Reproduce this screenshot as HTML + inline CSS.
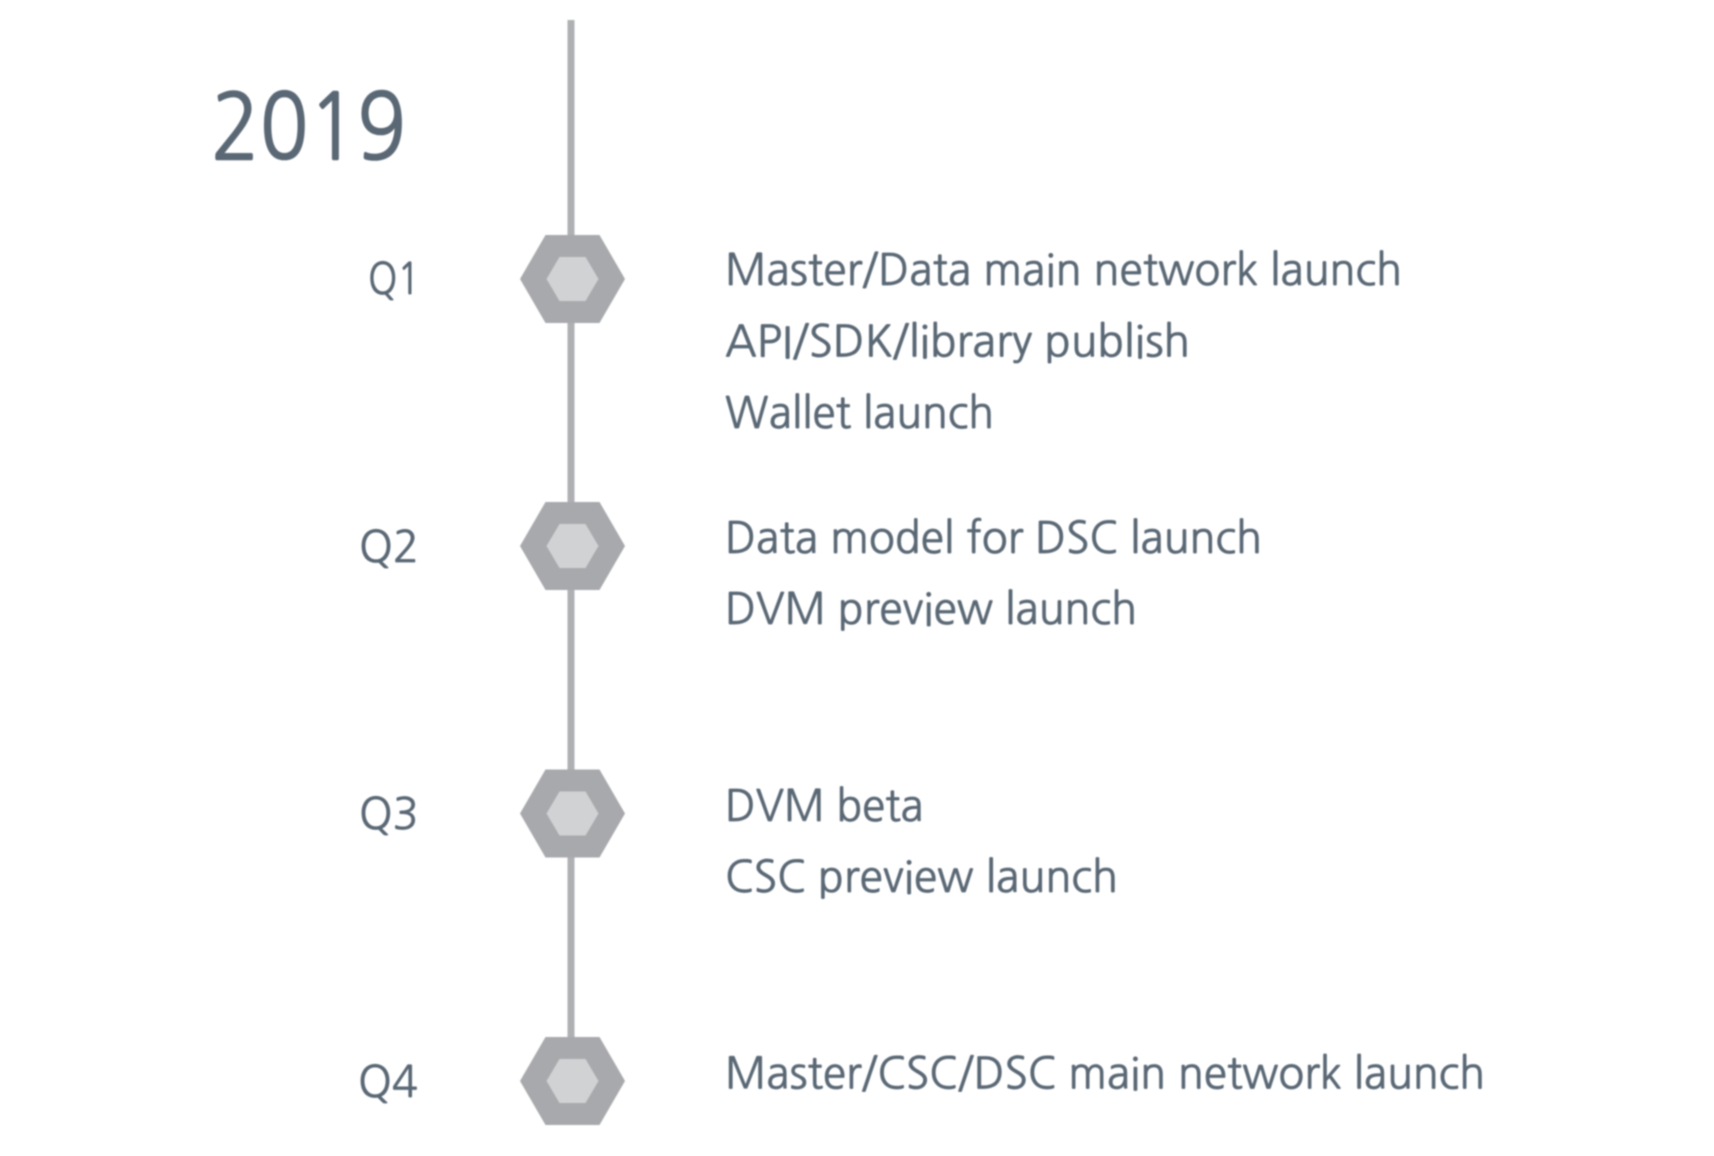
<!DOCTYPE html>
<html><head><meta charset="utf-8">
<style>
html,body{margin:0;padding:0;background:#fff;width:1714px;height:1156px;overflow:hidden}
svg{display:block}
.b{filter:blur(0.8px)}
text{font-family:"NanumGothic","Liberation Sans",sans-serif;fill:#5a6875;stroke:#5a6875;stroke-width:0.7px;font-size:43px}
</style></head>
<body>
<svg width="1714" height="1156" viewBox="0 0 1714 1156">
<g class="b">
<rect x="567.5" y="20" width="7" height="1070" fill="#aeb0b4"/>
<g transform="translate(572.5,279)"><polygon points="-52.5,0 -27,-44 27,-44 52.5,0 27,44 -27,44" fill="#a8a9ac"/><polygon points="-26,0 -13,-22 13,-22 26,0 13,22 -13,22" fill="#d1d2d4"/></g>
<g transform="translate(572.5,546)"><polygon points="-52.5,0 -27,-44 27,-44 52.5,0 27,44 -27,44" fill="#a8a9ac"/><polygon points="-26,0 -13,-22 13,-22 26,0 13,22 -13,22" fill="#d1d2d4"/></g>
<g transform="translate(572.5,813.5)"><polygon points="-52.5,0 -27,-44 27,-44 52.5,0 27,44 -27,44" fill="#a8a9ac"/><polygon points="-26,0 -13,-22 13,-22 26,0 13,22 -13,22" fill="#d1d2d4"/></g>
<g transform="translate(572.5,1081)"><polygon points="-52.5,0 -27,-44 27,-44 52.5,0 27,44 -27,44" fill="#a8a9ac"/><polygon points="-26,0 -13,-22 13,-22 26,0 13,22 -13,22" fill="#d1d2d4"/></g>
<text x="211" y="159" style="font-size:91px;stroke-width:1.6px" textLength="195" lengthAdjust="spacingAndGlyphs">2019</text>
<text x="368" y="294" textLength="52" lengthAdjust="spacingAndGlyphs">Q1</text>
<text x="359" y="562" textLength="60" lengthAdjust="spacingAndGlyphs">Q2</text>
<text x="359" y="829" textLength="59.5" lengthAdjust="spacingAndGlyphs">Q3</text>
<text x="358" y="1097" textLength="60" lengthAdjust="spacingAndGlyphs">Q4</text>
<text x="725" y="285" textLength="677" lengthAdjust="spacingAndGlyphs">Master/Data main network launch</text>
<text x="725" y="356.5" textLength="465" lengthAdjust="spacingAndGlyphs">API/SDK/library publish</text>
<text x="725" y="428" textLength="269" lengthAdjust="spacingAndGlyphs">Wallet launch</text>
<text x="725" y="553" textLength="537" lengthAdjust="spacingAndGlyphs">Data model for DSC launch</text>
<text x="725" y="624" textLength="412" lengthAdjust="spacingAndGlyphs">DVM preview launch</text>
<text x="725" y="821" textLength="198.5" lengthAdjust="spacingAndGlyphs">DVM beta</text>
<text x="725" y="892" textLength="393" lengthAdjust="spacingAndGlyphs">CSC preview launch</text>
<text x="725" y="1088.5" textLength="760" lengthAdjust="spacingAndGlyphs">Master/CSC/DSC main network launch</text>
</g>
</svg>
</body></html>
